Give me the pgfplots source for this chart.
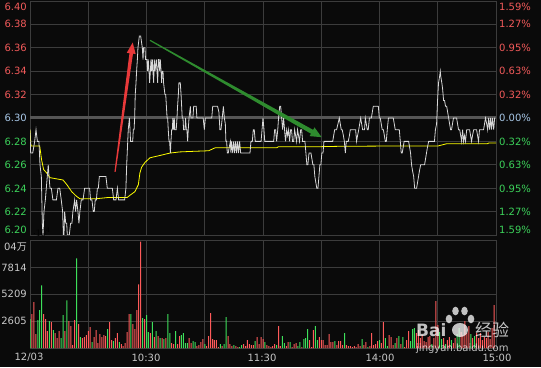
\documentclass[border=0pt]{standalone}
\usepackage{pgfplots}
\pgfplotsset{compat=1.18}
\usepackage{fontspec}
\setmainfont{DejaVu Sans}
\newfontfamily\cjk{Noto Sans CJK SC}
\usetikzlibrary{calc}
\definecolor{cbg}{HTML}{0A0A0A}
\definecolor{cgrid}{HTML}{3C3C3C}
\definecolor{czero}{HTML}{555555}
\definecolor{cprice}{HTML}{D8D8D8}
\definecolor{cavg}{HTML}{FFFF00}
\definecolor{cred}{HTML}{F25A5A}
\definecolor{cgreen}{HTML}{3CD25A}
\definecolor{cblue}{HTML}{A8C8E8}
\definecolor{ctext}{HTML}{C8C8C8}
\definecolor{cbarr}{HTML}{FF5A5A}
\definecolor{cbarg}{HTML}{3DE05A}
\definecolor{carrr}{HTML}{E8393A}
\definecolor{carrg}{HTML}{2E8B2E}
\tikzset{lbl/.style={font=\fontsize{10}{12}\selectfont, inner sep=0pt}}
\pgfplotsset{panel/.style={anchor=south west, scale only axis, xmin=0, xmax=240,
  xtick={0,30,60,90,120,150,180,210,240}, xticklabels={}, yticklabels={},
  grid=major, major grid style={draw=cgrid, line width=0.8pt},
  axis line style={draw=cgrid, line width=0.8pt},
  major tick length=0pt, clip=true}}
\begin{document}
\begin{tikzpicture}
\path[use as bounding box] (0pt,0pt) rectangle (541pt,367pt);
\fill[cbg] (0pt,0pt) rectangle (541pt,367pt);
% ---------------- price panel ----------------
\begin{axis}[panel, at={(30pt,132pt)}, width=466pt, height=234pt,
  ymin=6.20, ymax=6.40,
  ytick={6.20,6.22,6.24,6.26,6.28,6.30,6.32,6.34,6.36,6.38,6.40}]
\addplot[draw=czero, line width=3pt] coordinates {(0,6.30)(240,6.30)};
% average price line
\addplot[draw=cavg, line width=0.8pt] coordinates {
(0,6.29)(0.5,6.276)(5,6.276)(6,6.264)(7,6.256)(8.6,6.253)(10.3,6.249)(17,6.247)(19,6.243)(21.5,6.237)(24,6.233)(25.7,6.231)(34,6.231)(40,6.232)(50,6.232)(51.5,6.234)(54,6.237)(55.8,6.243)(56.6,6.253)(57.5,6.258)(59.2,6.262)(61.8,6.266)(67,6.268)(72,6.270)(77,6.271)(84,6.2715)(92,6.272)(95.3,6.2745)(127,6.2745)(128,6.2755)(150,6.2755)(159,6.2758)(180,6.276)(210,6.276)(211,6.2765)(214.6,6.278)(235.5,6.278)(236.3,6.2786)(240,6.2786)};
% price line
\addplot[draw=cprice, line width=0.8pt] coordinates {
(0,6.29)(0.34,6.27)(1.4,6.27)(2.4,6.28)(3.1,6.29)(3.8,6.28)(4.6,6.28)(5.15,6.26)(5.84,6.25)(6.35,6.21)(6.7,6.20)(7.2,6.22)(7.9,6.23)(8.4,6.24)(8.9,6.25)(9.4,6.26)(9.8,6.25)(10.3,6.24)(11,6.24)(11.8,6.23)(12.7,6.23)(13.6,6.23)(14.4,6.24)(15.3,6.24)(16.1,6.23)(16.8,6.22)(17.2,6.20)(17.5,6.20)(17.85,6.22)(18.4,6.21)(18.9,6.21)(19.2,6.20)(20.25,6.20)(20.9,6.21)(21.6,6.21)(22.1,6.22)(23.0,6.23)(23.5,6.22)(24.0,6.23)(24.7,6.22)(25.2,6.21)(25.7,6.22)(26.4,6.23)(27.3,6.23)(28.15,6.24)(29.0,6.24)(30.7,6.24)(31.2,6.23)(31.9,6.23)(32.6,6.22)(33.1,6.22)(33.6,6.23)(34.2,6.23)(34.7,6.24)(35.2,6.24)(35.7,6.25)(38.5,6.25)(39.1,6.25)(39.8,6.24)(40.7,6.24)(41.7,6.24)(42.4,6.24)(43.1,6.23)(44.3,6.23)(45.0,6.24)(45.65,6.23)(48.75,6.23)(49.4,6.24)
(49.8,6.26)(50.6,6.29)(51.2,6.30)(51.5,6.29)(51.8,6.28)(52.9,6.28)(53.2,6.29)(53.6,6.29)(53.9,6.30)(54.2,6.32)(54.6,6.33)(54.9,6.34)(55.3,6.35)(55.6,6.36)(56.3,6.37)(57.0,6.37)(57.85,6.36)(58.2,6.35)(58.5,6.36)(59.2,6.36)(59.5,6.35)(60.2,6.35)(60.6,6.34)(60.9,6.35)(61.3,6.34)(61.6,6.33)(62.0,6.34)(62.3,6.35)(62.6,6.34)(63.0,6.35)(63.3,6.34)(63.7,6.33)(64.0,6.35)(64.4,6.34)(65.05,6.35)(65.4,6.34)(65.75,6.33)(66.1,6.35)(66.4,6.35)(66.8,6.34)(67.1,6.35)(67.5,6.34)(67.8,6.33)(68.1,6.34)(68.5,6.34)(68.8,6.33)(69.5,6.32)(69.9,6.32)(70.6,6.30)(70.9,6.30)(71.2,6.29)(71.6,6.28)(71.9,6.28)(72.3,6.27)(72.6,6.28)(72.96,6.29)(73.3,6.29)(73.6,6.30)(73.96,6.29)(74.3,6.30)(74.6,6.29)(75.3,6.29)(75.7,6.30)(76.0,6.31)(76.4,6.32)(76.7,6.33)(77.4,6.33)(77.8,6.32)(78.1,6.31)(78.4,6.30)(78.8,6.30)(79.1,6.29)(79.8,6.29)(80.1,6.30)(80.5,6.29)(80.8,6.29)(81.2,6.28)(81.5,6.29)(81.9,6.30)(82.6,6.31)(82.9,6.30)(83.9,6.30)(84.3,6.31)(85.6,6.31)(85.96,6.30)(89.2,6.30)(89.8,6.29)(90.3,6.30)(93.6,6.30)(94.1,6.31)(95.6,6.31)
(96.6,6.31)(97.3,6.305)(97.8,6.29)(98.35,6.29)(99.0,6.30)(99.6,6.31)(100.1,6.30)(100.6,6.295)(100.9,6.28)(101.3,6.28)(101.6,6.27)(102.1,6.27)(102.6,6.275)(103.2,6.28)(103.5,6.27)(103.8,6.28)(104.4,6.27)(104.9,6.28)(105.4,6.27)(105.9,6.28)(106.4,6.27)(106.9,6.28)(107.4,6.27)(107.96,6.28)(108.5,6.27)(113.3,6.27)(113.8,6.28)(114.5,6.28)(115.0,6.29)(115.5,6.29)(116.0,6.28)(119.0,6.28)(119.5,6.29)(120.0,6.30)(120.5,6.29)(120.9,6.28)(125.5,6.28)(126.0,6.29)(126.5,6.29)(127.0,6.28)(127.6,6.29)(128.0,6.30)(128.6,6.31)(129.1,6.31)(129.6,6.30)(130.1,6.29)(130.6,6.30)(131.1,6.29)(131.6,6.28)(132.2,6.29)(132.7,6.285)(133.2,6.29)(133.7,6.28)(134.2,6.29)(134.7,6.29)(135.2,6.28)(135.8,6.28)(136.3,6.29)(136.8,6.285)(137.3,6.28)(137.8,6.29)(138.3,6.285)(138.8,6.28)(139.4,6.29)(139.9,6.29)(140.4,6.28)(141.6,6.28)(142.1,6.27)(142.6,6.26)(143.1,6.26)(143.7,6.27)(144.7,6.27)(145.2,6.265)(145.7,6.26)(146.2,6.26)(146.7,6.25)(147.2,6.245)(147.7,6.24)(148.3,6.24)(148.8,6.25)(149.3,6.26)(149.8,6.26)(150.3,6.27)(150.9,6.27)(151.4,6.28)(154.4,6.28)
(154.9,6.28)(155.9,6.28)(156.4,6.285)(156.9,6.29)(157.9,6.29)(158.6,6.295)(159.3,6.30)(159.8,6.295)(160.3,6.29)(160.8,6.29)(161.4,6.285)(161.9,6.28)(162.4,6.27)(162.9,6.28)(163.9,6.28)(164.5,6.285)(164.96,6.29)(167.7,6.29)(168.2,6.28)(168.7,6.285)(169.3,6.29)(169.8,6.295)(170.3,6.30)(170.8,6.295)(171.3,6.29)(172.3,6.29)(172.7,6.30)(173.2,6.295)(173.7,6.29)(174.2,6.29)(174.8,6.30)(175.8,6.30)(176.3,6.305)(176.8,6.31)(179.4,6.31)(179.9,6.30)(180.4,6.30)(180.9,6.295)(181.4,6.29)(182.0,6.29)(182.5,6.285)(183.0,6.28)(183.5,6.28)(184.0,6.29)(184.6,6.30)(187.1,6.30)(187.6,6.295)(188.1,6.29)(190.2,6.29)(190.7,6.28)(191.2,6.27)(191.7,6.27)(192.2,6.275)(192.7,6.28)(195.0,6.28)(195.5,6.275)(196.0,6.27)(196.5,6.26)(197.0,6.255)(197.6,6.25)(198.1,6.24)(199.1,6.24)(199.6,6.245)(200.1,6.25)(200.6,6.255)(201.2,6.26)(203.2,6.26)(203.7,6.265)(204.2,6.27)(204.7,6.275)(205.3,6.28)(208.3,6.28)(208.8,6.29)(209.4,6.295)(209.9,6.315)(210.4,6.33)(210.9,6.335)(211.3,6.34)(211.6,6.335)(212.1,6.33)(212.5,6.325)(213.0,6.315)(213.5,6.315)(214.0,6.31)(214.6,6.31)(215.1,6.305)(215.6,6.30)(216.1,6.295)(216.6,6.29)(217.1,6.29)(217.6,6.295)(218.1,6.30)(219.7,6.30)(220.2,6.295)(220.7,6.29)(221.3,6.29)(221.8,6.285)(222.3,6.28)(222.8,6.29)(223.3,6.28)(223.8,6.285)(224.3,6.28)(224.9,6.29)(226.4,6.29)(226.9,6.285)(227.4,6.28)(227.9,6.285)(228.5,6.29)(230.0,6.29)(230.5,6.285)(231.0,6.28)(231.5,6.29)(233.6,6.29)(234.1,6.295)(234.6,6.30)(235.2,6.295)(235.7,6.29)(236.2,6.30)(236.7,6.29)(237.2,6.30)(237.7,6.29)(238.2,6.30)(238.8,6.29)(239.3,6.30)(239.6,6.30)};
\coordinate (RA) at (axis cs:43.8,6.254);
\coordinate (RB) at (axis cs:52.9,6.3645);
\coordinate (GA) at (axis cs:61.8,6.3664);
\coordinate (GB) at (axis cs:150.2,6.2836);
\end{axis}
% ---------------- volume panel ----------------
\begin{axis}[panel, at={(30pt,19pt)}, width=466pt, height=108pt,
  ymin=0, ymax=10520, ytick={2605,5209,7814}]
\addplot[ybar, bar width=1pt, bar shift=0pt, fill=cbarr, draw=none] coordinates {
(1,3295)(2,4457)(3,1357)(7,3295)(8,2810)(9,1647)(11,2519)(13,1454)(14,969)(15,1647)(18,1647)(20,2616)(21,2132)(22,291)(23,2713)(25,2326)(27,969)(28,1066)(29,1260)(30,1647)(31,2035)(33,1066)(34,1744)(35,485)(36,1357)(37,1066)(38,1260)(39,1163)(41,2519)(42,775)(44,969)(45,1454)(47,388)(48,194)(49,485)(50,1550)(51,3295)(53,2326)(54,1841)(55,3682)(56,6202)(57,10368)(59,2810)(62,1454)(64,1066)(66,1163)(68,969)(70,969)(73,485)(74,388)(76,388)(77,1163)(82,969)(83,485)(86,194)(87,291)(88,581)(89,872)(91,194)(92,1163)(93,3392)(94,872)(95,775)(96,775)(97,97)(99,194)(102,1163)(103,388)(104,194)(106,194)(107,97)(110,388)(111,194)(112,775)(113,388)(114,291)(115,291)(117,1066)(118,388)(119,1066)(120,872)
(122,291)(123,194)(124,97)(125,194)(126,388)(128,2132)(129,194)(132,194)(133,581)(135,97)(136,388)(137,485)(140,97)(144,775)(145,97)(146,1744)(149,1066)(150,775)(151,775)(152,291)(153,291)(154,1357)(155,581)(156,581)(158,291)(159,678)(160,678)(161,291)(163,291)(164,194)(165,194)(166,97)(167,194)(168,97)(169,388)(170,194)(172,291)(173,581)(175,194)(176,1454)(177,291)(178,388)(179,678)(181,485)(182,2519)(185,1260)(186,1066)(187,291)(189,969)(191,388)(193,97)(194,775)(195,1647)(199,1454)(200,1744)(201,969)(202,1260)(203,678)(204,581)(205,1066)(206,1163)(208,969)(209,4554)(210,2229)(213,969)(215,775)(216,1066)(218,485)(219,969)(222,1550)(223,1260)(224,2616)(225,1454)(226,2132)(228,969)(230,1454)(231,969)(232,1454)(233,775)(234,1066)(235,969)(236,1550)(237,872)(238,1938)(239,4167)};
\addplot[ybar, bar width=1pt, bar shift=0pt, fill=cbarg, draw=none] coordinates {
(0,2810)(4,2713)(5,3682)(6,6105)(10,2616)(12,1744)(16,969)(17,3198)(19,4651)(24,8721)(26,1066)(32,581)(40,1841)(43,678)(46,581)(52,3295)(58,2907)(60,3198)(61,1550)(63,2519)(65,1647)(67,969)(69,872)(71,3295)(72,1454)(75,1647)(78,1260)(79,1454)(80,485)(81,485)(84,678)(85,581)(90,388)(98,388)(100,388)(101,3004)(105,291)(108,97)(109,291)(116,678)(121,581)
(127,291)(130,1163)(131,485)(134,581)(138,194)(139,581)(141,872)(142,969)(143,1841)(147,2132)(148,775)(157,678)(162,1454)(171,872)(174,97)(180,775)(183,969)(184,194)(188,485)(190,1163)(192,1066)(196,678)(197,1841)(198,1938)(207,388)(211,1550)(212,872)(214,388)(217,775)(220,1357)(221,1938)(227,1357)(229,1163)};
\end{axis}
% ---------------- arrows ----------------
\fill[carrr] ($(RA)!0.6pt!90:(RB)$) -- ($($(RB)!10pt!(RA)$)!1.8pt!90:(RB)$) -- ($($(RB)!10pt!(RA)$)!1.8pt!-90:(RB)$) -- ($(RA)!0.6pt!-90:(RB)$) -- cycle;
\fill[carrr] ($($(RB)!11pt!(RA)$)!4.5pt!90:(RB)$) -- (RB) -- ($($(RB)!11pt!(RA)$)!4.5pt!-90:(RB)$) -- cycle;
\fill[carrg] ($(GA)!0.6pt!90:(GB)$) -- ($($(GB)!10pt!(GA)$)!2.2pt!90:(GB)$) -- ($($(GB)!10pt!(GA)$)!2.2pt!-90:(GB)$) -- ($(GA)!0.6pt!-90:(GB)$) -- cycle;
\fill[carrg] ($($(GB)!11pt!(GA)$)!5pt!90:(GB)$) -- (GB) -- ($($(GB)!11pt!(GA)$)!5pt!-90:(GB)$) -- cycle;
% ---------------- left price labels ----------------
\node[lbl, text=cred, anchor=east] at (27pt,360.3pt) {6.40};
\node[lbl, text=cred, anchor=east] at (27pt,343pt) {6.38};
\node[lbl, text=cred, anchor=east] at (27pt,319.5pt) {6.36};
\node[lbl, text=cred, anchor=east] at (27pt,296pt) {6.34};
\node[lbl, text=cred, anchor=east] at (27pt,272.5pt) {6.32};
\node[lbl, text=cblue, anchor=east] at (27pt,249pt) {6.30};
\node[lbl, text=cgreen, anchor=east] at (27pt,225.5pt) {6.28};
\node[lbl, text=cgreen, anchor=east] at (27pt,202pt) {6.26};
\node[lbl, text=cgreen, anchor=east] at (27pt,178.5pt) {6.24};
\node[lbl, text=cgreen, anchor=east] at (27pt,155pt) {6.22};
\node[lbl, text=cgreen, anchor=east] at (27pt,137pt) {6.20};
% ---------------- right percent labels ----------------
\node[lbl, text=cred, anchor=west] at (499pt,360.3pt) {1.59\%};
\node[lbl, text=cred, anchor=west] at (499pt,343pt) {1.27\%};
\node[lbl, text=cred, anchor=west] at (499pt,319.5pt) {0.95\%};
\node[lbl, text=cred, anchor=west] at (499pt,296pt) {0.63\%};
\node[lbl, text=cred, anchor=west] at (499pt,272.5pt) {0.32\%};
\node[lbl, text=cblue, anchor=west] at (499pt,249pt) {0.00\%};
\node[lbl, text=cgreen, anchor=west] at (499pt,225.5pt) {0.32\%};
\node[lbl, text=cgreen, anchor=west] at (499pt,202pt) {0.63\%};
\node[lbl, text=cgreen, anchor=west] at (499pt,178.5pt) {0.95\%};
\node[lbl, text=cgreen, anchor=west] at (499pt,155pt) {1.27\%};
\node[lbl, text=cgreen, anchor=west] at (499pt,137pt) {1.59\%};
% ---------------- volume labels ----------------
\node[lbl, text=ctext, anchor=east] at (27pt,120pt) {04{\cjk 万}};
\node[lbl, text=ctext, anchor=east] at (27pt,99.5pt) {7814};
\node[lbl, text=ctext, anchor=east] at (27pt,73pt) {5209};
\node[lbl, text=ctext, anchor=east] at (27pt,46pt) {2605};
% ---------------- time labels ----------------
\node[lbl, text=ctext] at (29pt,9.5pt) {12/03};
\node[lbl, text=ctext] at (146pt,9.5pt) {10:30};
\node[lbl, text=ctext] at (262pt,9.5pt) {11:30};
\node[lbl, text=ctext] at (380pt,9.5pt) {14:00};
\node[lbl, text=ctext] at (497pt,9.5pt) {15:00};
% ---------------- watermark ----------------
\begin{scope}[opacity=0.75]
\node[inner sep=0pt, text=white, font=\fontsize{17}{19}\selectfont\bfseries, anchor=west] at (416pt,37pt) {Bai};
\fill[white] (460pt,37pt) ellipse (8pt and 7pt);
\fill[white] (449pt,48pt) ellipse (3.3pt and 4.3pt);
\fill[white] (455.5pt,56pt) ellipse (3.3pt and 4.3pt);
\fill[white] (464.5pt,56pt) ellipse (3.3pt and 4.3pt);
\fill[white] (471pt,48pt) ellipse (3.3pt and 4.3pt);
\node[inner sep=0pt, text=white, font=\fontsize{17}{19}\selectfont, anchor=west] at (475pt,37pt) {\cjk 经验};
\node[inner sep=0pt, text=white, font=\fontsize{10}{12}\selectfont, anchor=west] at (416pt,18pt) {jingyan.baidu.com};
\end{scope}
\end{tikzpicture}
\end{document}
